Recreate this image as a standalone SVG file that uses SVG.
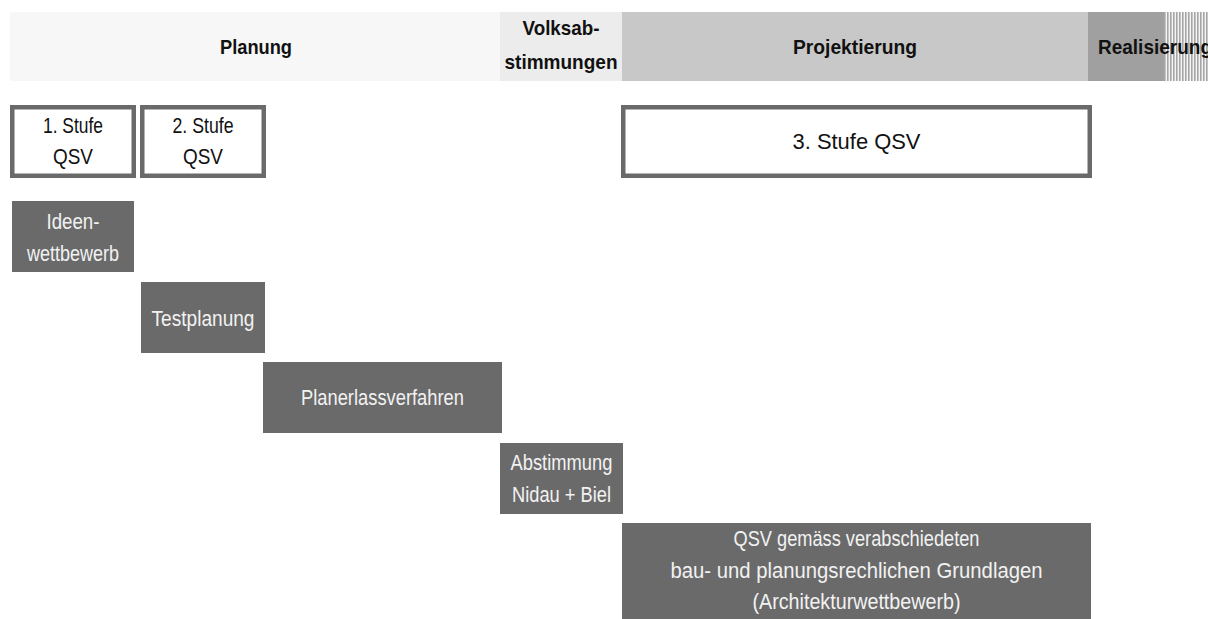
<svg xmlns="http://www.w3.org/2000/svg" width="1208" height="619" viewBox="0 0 1208 619">
<defs>
<pattern id="stripes" x="0" y="0" width="3" height="10" patternUnits="userSpaceOnUse">
<rect x="0" y="0" width="3" height="10" fill="#f4f4f4"/>
<rect x="0" y="0" width="1.6" height="10" fill="#a6a6a6"/>
</pattern>
</defs>
<style>
.hdr{font-family:"Liberation Sans Narrow","Liberation Sans",Arial,sans-serif;font-weight:bold;font-size:21px;fill:#111;text-anchor:middle}
.lt{font-family:"Liberation Sans Narrow","Liberation Sans",Arial,sans-serif;font-size:22px;fill:#111;text-anchor:middle}
.dk{font-family:"Liberation Sans Narrow","Liberation Sans",Arial,sans-serif;font-size:22px;fill:#f2f2f2;text-anchor:middle}
.frame{fill:#ffffff;stroke:#6a6a6a;stroke-width:4.5}
.block{fill:#6a6a6a}
</style>
<rect width="1208" height="619" fill="#ffffff"/>
<g id="phases">
<g id="phase-planung">
<rect x="10" y="12" width="490" height="69" fill="#f7f7f7"/>
<text class="hdr" x="256" y="54" textLength="72" lengthAdjust="spacingAndGlyphs">Planung</text>
</g>
<g id="phase-volksabstimmungen">
<rect x="500" y="12" width="122" height="69" fill="#ececec"/>
<text class="hdr" x="561" y="35" textLength="77" lengthAdjust="spacingAndGlyphs">Volksab-</text>
<text class="hdr" x="561" y="69" textLength="113" lengthAdjust="spacingAndGlyphs">stimmungen</text>
</g>
<g id="phase-projektierung">
<rect x="622" y="12" width="466" height="69" fill="#c8c8c8"/>
<text class="hdr" x="855" y="54" textLength="124" lengthAdjust="spacingAndGlyphs">Projektierung</text>
</g>
<g id="phase-realisierung">
<rect x="1088" y="12" width="76" height="69" fill="#a0a0a0"/>
<rect x="1164" y="12" width="44" height="69" fill="url(#stripes)"/>
<text class="hdr" x="1098" y="54" style="text-anchor:start" textLength="114" lengthAdjust="spacingAndGlyphs">Realisierung</text>
</g>
</g>
<g id="stufe1">
<rect class="frame" x="12.25" y="107.25" width="121.5" height="68.5"/>
<text class="lt" x="73" y="133" textLength="60" lengthAdjust="spacingAndGlyphs">1. Stufe</text>
<text class="lt" x="73" y="164" textLength="40" lengthAdjust="spacingAndGlyphs">QSV</text>
</g>
<g id="stufe2">
<rect class="frame" x="142.25" y="107.25" width="121.5" height="68.5"/>
<text class="lt" x="203" y="133" textLength="61" lengthAdjust="spacingAndGlyphs">2. Stufe</text>
<text class="lt" x="203" y="164" textLength="40" lengthAdjust="spacingAndGlyphs">QSV</text>
</g>
<g id="stufe3">
<rect class="frame" x="623.25" y="107.25" width="466.5" height="68.5"/>
<text class="lt" x="856.5" y="149" textLength="128" lengthAdjust="spacingAndGlyphs">3. Stufe QSV</text>
</g>
<g id="ideenwettbewerb">
<rect class="block" x="12" y="201" width="122" height="71"/>
<text class="dk" x="73" y="229" textLength="53" lengthAdjust="spacingAndGlyphs">Ideen-</text>
<text class="dk" x="73" y="261" textLength="92" lengthAdjust="spacingAndGlyphs">wettbewerb</text>
</g>
<g id="testplanung">
<rect class="block" x="141" y="282" width="124" height="71"/>
<text class="dk" x="203" y="326" textLength="103" lengthAdjust="spacingAndGlyphs">Testplanung</text>
</g>
<g id="planerlassverfahren">
<rect class="block" x="263" y="362" width="239" height="71"/>
<text class="dk" x="382.5" y="405" textLength="163" lengthAdjust="spacingAndGlyphs">Planerlassverfahren</text>
</g>
<g id="abstimmung">
<rect class="block" x="500" y="443" width="123" height="71"/>
<text class="dk" x="561.5" y="470" textLength="102" lengthAdjust="spacingAndGlyphs">Abstimmung</text>
<text class="dk" x="561.5" y="502" textLength="99" lengthAdjust="spacingAndGlyphs">Nidau + Biel</text>
</g>
<g id="qsv-architekturwettbewerb">
<rect class="block" x="622" y="523" width="469" height="96"/>
<text class="dk" x="856.5" y="546" textLength="246" lengthAdjust="spacingAndGlyphs">QSV gemäss verabschiedeten</text>
<text class="dk" x="856.5" y="578" textLength="372" lengthAdjust="spacingAndGlyphs">bau- und planungsrechlichen Grundlagen</text>
<text class="dk" x="856.5" y="609" textLength="208" lengthAdjust="spacingAndGlyphs">(Architekturwettbewerb)</text>
</g>
<g id="connectors"/>
</svg>
